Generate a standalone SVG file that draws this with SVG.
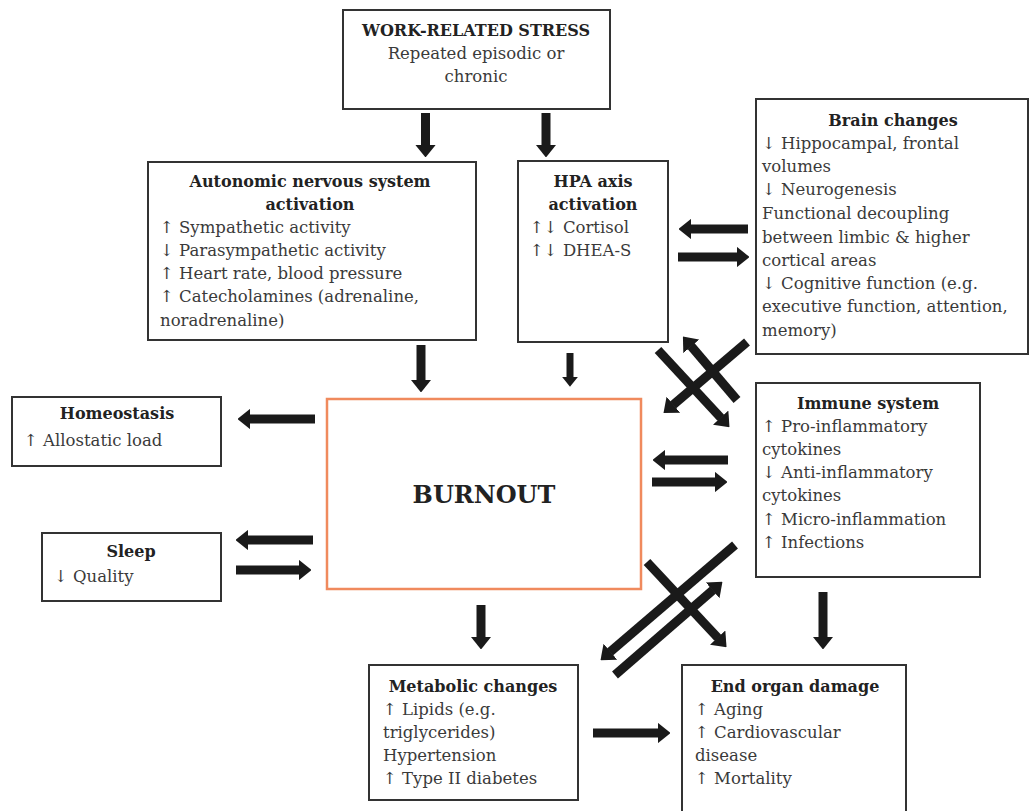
<svg xmlns="http://www.w3.org/2000/svg" width="1030" height="811" viewBox="0 0 1030 811">
<defs>
<style>
.box{fill:#fff;stroke:#333;stroke-width:2}
.burn{fill:#fff;stroke:#f08a5d;stroke-width:2.5}
text{font-family:"DejaVu Serif","Liberation Serif",serif;font-size:16.5px;fill:#3a3a3a}
.t{font-weight:bold;font-size:16px;fill:#222;text-anchor:middle}
.big{font-weight:bold;font-size:24px;fill:#222;text-anchor:middle}
.a{stroke:#1a1a1a;stroke-width:9;fill:none;marker-end:url(#h)}
.s{stroke-width:7}
</style>
<marker id="h" viewBox="0 -10.5 13 21" markerUnits="strokeWidth" markerWidth="1.444" markerHeight="2.333" refX="0.5" refY="0" orient="auto">
<path d="M0,-10.5 L13,0 L0,10.5 Z" fill="#1a1a1a"/>
</marker>
</defs>
<rect width="1030" height="811" fill="#fff"/>

<g id="stress">
<rect class="box" x="343" y="10" width="267" height="99"/>
<text class="t" x="476" y="36">WORK-RELATED STRESS</text>
<text x="476" y="59" text-anchor="middle">Repeated episodic or</text>
<text x="476" y="82" text-anchor="middle">chronic</text>
</g>

<g id="autonomic">
<rect class="box" x="148" y="162" width="328" height="178"/>
<text class="t" x="310" y="187">Autonomic nervous system</text>
<text class="t" x="310" y="210">activation</text>
<text x="160" y="233">↑ Sympathetic activity</text>
<text x="160" y="256">↓ Parasympathetic activity</text>
<text x="160" y="279">↑ Heart rate, blood pressure</text>
<text x="160" y="302">↑ Catecholamines (adrenaline,</text>
<text x="160" y="326">noradrenaline)</text>
</g>

<g id="hpa">
<rect class="box" x="518" y="161" width="150" height="181"/>
<text class="t" x="593" y="187">HPA axis</text>
<text class="t" x="593" y="210">activation</text>
<text x="530" y="233">↑↓ Cortisol</text>
<text x="530" y="256">↑↓ DHEA-S</text>
</g>

<g id="brain">
<rect class="box" x="756" y="99" width="272" height="255"/>
<text class="t" x="893" y="126">Brain changes</text>
<text x="762" y="149">↓ Hippocampal, frontal</text>
<text x="762" y="172">volumes</text>
<text x="762" y="195">↓ Neurogenesis</text>
<text x="762" y="219">Functional decoupling</text>
<text x="762" y="243">between limbic &amp; higher</text>
<text x="762" y="266">cortical areas</text>
<text x="762" y="289">↓ Cognitive function (e.g.</text>
<text x="762" y="312">executive function, attention,</text>
<text x="762" y="336">memory)</text>
</g>

<g id="homeostasis">
<rect class="box" x="12" y="397" width="209" height="69"/>
<text class="t" x="117" y="419">Homeostasis</text>
<text x="24" y="446">↑ Allostatic load</text>
</g>

<g id="burnout">
<rect class="burn" x="327" y="399" width="314" height="190"/>
<text class="big" x="484" y="503">BURNOUT</text>
</g>

<g id="immune">
<rect class="box" x="756" y="383" width="224" height="194"/>
<text class="t" x="868" y="409">Immune system</text>
<text x="762" y="432">↑ Pro-inflammatory</text>
<text x="762" y="455">cytokines</text>
<text x="762" y="478">↓ Anti-inflammatory</text>
<text x="762" y="501">cytokines</text>
<text x="762" y="525">↑ Micro-inflammation</text>
<text x="762" y="548">↑ Infections</text>
</g>

<g id="sleep">
<rect class="box" x="42" y="533" width="179" height="68"/>
<text class="t" x="131" y="557">Sleep</text>
<text x="54" y="582">↓ Quality</text>
</g>

<g id="metabolic">
<rect class="box" x="369" y="665" width="209" height="135"/>
<text class="t" x="473" y="692">Metabolic changes</text>
<text x="383" y="715">↑ Lipids (e.g.</text>
<text x="383" y="738">triglycerides)</text>
<text x="383" y="761">Hypertension</text>
<text x="383" y="784">↑ Type II diabetes</text>
</g>

<g id="endorgan">
<rect class="box" x="682" y="665" width="224" height="150"/>
<text class="t" x="795" y="692">End organ damage</text>
<text x="695" y="715">↑ Aging</text>
<text x="695" y="738">↑ Cardiovascular</text>
<text x="695" y="761">disease</text>
<text x="695" y="784">↑ Mortality</text>
</g>

<g id="connectors">
<line class="a" x1="425.5" y1="113" x2="425.5" y2="145"/>
<line class="a" x1="546" y1="113" x2="546" y2="145"/>
<line class="a" x1="421" y1="345" x2="421" y2="380"/>
<line class="a s" x1="570" y1="353" x2="570" y2="377"/>
<line class="a" x1="481" y1="605" x2="481" y2="637"/>
<line class="a" x1="823" y1="592" x2="823" y2="637"/>
<line class="a" x1="748" y1="229" x2="691" y2="229"/>
<line class="a" x1="678" y1="257" x2="737" y2="257"/>
<line class="a" x1="315" y1="419" x2="250" y2="419"/>
<line class="a" x1="313" y1="540" x2="248" y2="540"/>
<line class="a" x1="236" y1="570" x2="299" y2="570"/>
<line class="a" x1="728" y1="460" x2="665" y2="460"/>
<line class="a" x1="652" y1="482" x2="715" y2="482"/>
<line class="a" x1="593" y1="733" x2="658" y2="733"/>
<line class="a" x1="747" y1="342" x2="673" y2="405"/>
<line class="a" x1="737" y1="400" x2="691" y2="346"/>
<line class="a" x1="658" y1="350" x2="721" y2="418"/>
<line class="a" x1="735" y1="545" x2="610" y2="652"/>
<line class="a" x1="615" y1="675" x2="713" y2="590"/>
<line class="a" x1="647" y1="562" x2="718" y2="638"/>
</g>
</svg>
